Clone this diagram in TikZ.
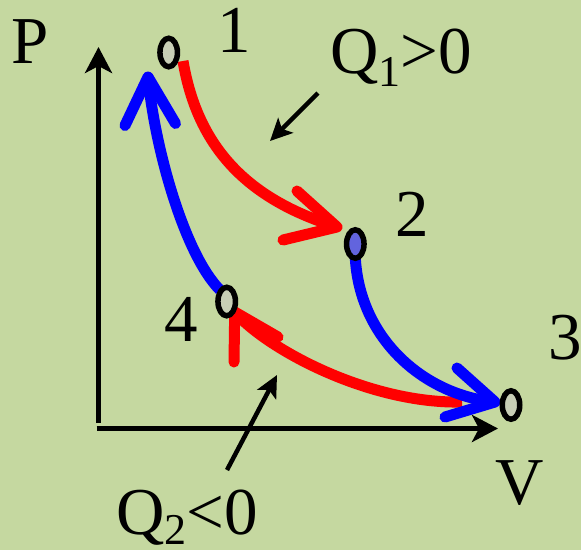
\documentclass[tikz,border=0pt]{standalone}
\usepackage{fontspec}
\setmainfont{Liberation Serif}
\usetikzlibrary{arrows.meta,shapes.geometric}
\pgfdeclarelayer{fg}
\pgfsetlayers{main,fg}
\definecolor{bg}{RGB}{197,216,160}
\definecolor{ptfill}{RGB}{200,207,182}
\definecolor{ptblue}{RGB}{98,100,222}
\newcommand\subtxt[2][13pt]{\raisebox{-#1}{\fontsize{44}{44}\selectfont #2}}
\begin{document}
\begin{tikzpicture}[x=1pt,y=-1pt,
  pt/.style={ellipse, draw=black, line width=5.5pt, minimum width=17.5pt, minimum height=28.5pt, inner sep=0pt, fill=ptfill},
  lbl/.style={inner sep=0pt, font=\fontsize{67}{70}\selectfont},
  hot/.style={draw=red, line width=11pt},
  cold/.style={draw=blue, line width=11pt},
  headline/.style={line join=round, line cap=round},
  axis/.style={draw=black, line width=5pt, -{Stealth[length=26pt,width=27pt,inset=7pt]}},
  pointer/.style={draw=black, line width=4.5pt, -{Stealth[length=22pt,width=21pt,inset=5pt]}}]
\useasboundingbox (0,0) rectangle (581,550);
\fill[bg] (0,0) rectangle (581,550);

% state points
\begin{pgfonlayer}{fg}
\node[pt] (p1) at (168.7,52.5) {};
\node[pt, fill=ptblue] (p2) at (355.3,244) {};
\node[pt] (p3) at (511,405) {};
\node[pt] (p4) at (226.7,301.5) {};
\end{pgfonlayer}

% axes
\coordinate (yb) at (98.5,423);
\coordinate (yt) at (98.5,47);
\coordinate (xl) at (96.5,428.5);
\coordinate (xr) at (498,428.5);
\draw[axis] (yb) -- (yt);
\draw[axis] (xl) -- (xr);

% heat pointers
\coordinate (q1s) at (318,93);
\coordinate (q1e) at (270,141);
\coordinate (q2s) at (227,470);
\coordinate (q2e) at (277,375);
\draw[pointer] (q1s) -- (q1e);
\draw[pointer] (q2s) -- (q2e);

% labels
\node[lbl, anchor=base] (tP) at (30.5,63) {P};
\node[lbl, anchor=base] (t1) at (234,52) {1};
\node[lbl, anchor=base] (t2) at (412,236) {2};
\node[lbl, anchor=base] (t3) at (565.5,359) {3};
\node[lbl, anchor=base] (t4) at (181.5,341) {4};
\node[lbl, anchor=base] (tV) at (520,504) {V};
\node[lbl, anchor=base west] (tQ1) at (330,73.5) {Q\subtxt{1}>0};
\node[lbl, anchor=base west] (tQ2) at (116,534) {Q\subtxt[10pt]{2}<0};

% 1 -> 2 (red)
\coordinate (e12) at ([shift={(-18.3,-17)}]p2.center);
\draw[hot] ([shift={(14.3,8.5)}]p1.center) .. controls (198,150) and (250,200) .. (e12);
\draw[hot, headline] (297,191) -- (e12) -- (283,240);

% 3 -> 4 (red)
\coordinate (e34) at ([shift={(8,10.5)}]p4.center);
\draw[hot] ([shift={(-49,-3)}]p3.center) .. controls (370,404) and (268,350) .. (e34);
\draw[hot, headline] (278,337) -- (e34) -- (234,362);

% 2 -> 3 (blue)
\coordinate (e23) at ([shift={(-16,-3)}]p3.center);
\draw[cold] ([shift={(0,14)}]p2.center) .. controls (360,340) and (425,395) .. (e23);
\draw[cold, headline] (457,368) -- (e23) -- (445,417);

% 4 -> 1 (blue)
\coordinate (e41) at (148,77);
\draw[cold] ([shift={(-6.7,-11.5)}]p4.center) .. controls (185,255) and (155,150) .. (e41);
\draw[cold, headline] (125,125.5) -- (e41) -- (175.5,123.5);
\end{tikzpicture}
\end{document}
